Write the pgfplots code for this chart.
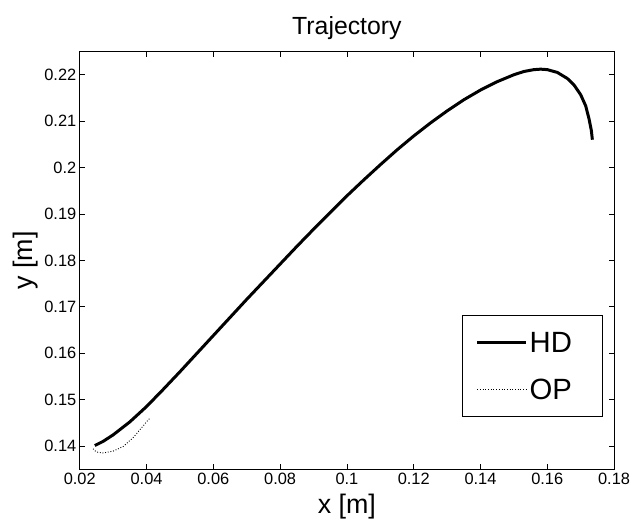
\documentclass[border=0pt]{standalone}
\usepackage{fontspec}
\setmainfont{Liberation Sans}
\usepackage{pgfplots}
\pgfplotsset{compat=1.18}
\begin{document}
\begin{tikzpicture}
\path[use as bounding box] (-80bp,-52bp) rectangle (556bp,470.7bp);
\begin{axis}[
  scale only axis,
  width=536bp, height=419bp,
  xmin=0.02, xmax=0.18, ymin=0.135, ymax=0.225,
  xtick={0.02,0.04,...,0.18},
  ytick={0.14,0.15,0.16,0.17,0.18,0.19,0.2,0.21,0.22},
  scaled ticks=false,
  /pgf/number format/assume math mode=true,
  /pgf/number format/fixed,
  /pgf/number format/precision=2,
  tick label style={font=\fontsize{16.5}{19}\selectfont},
  tick align=inside, tick pos=both,
  major tick length=5bp,
  axis line style={line width=0.8bp},
  every tick/.style={line width=0.6bp, black},
  title={Trajectory},
  title style={font=\fontsize{25}{29}\selectfont, yshift=2bp},
  xlabel={x [m]}, ylabel={y [m]},
  label style={font=\fontsize{27}{31}\selectfont},
  xlabel style={at={(axis description cs:0.5,0)}, anchor=south, inner sep=1bp, yshift=-51bp},
  ylabel style={at={(axis description cs:-0.076,0.5)}, anchor=south, rotate=0, inner sep=1bp},
  legend cell align=left,
  legend style={at={(0.979,0.125)}, anchor=south east, font=\fontsize{29.5}{33}\selectfont,
    draw=black, line width=0.8bp, inner xsep=13bp, inner ysep=15bp, row sep=22bp,
    nodes={inner sep=2bp, text height=21bp, text depth=0bp}},
  legend image code/.code={\draw[#1] (0bp,0bp) -- (49bp,0bp);},
]
\addplot[black, line width=3bp] coordinates {
(0.0245,0.1401) (0.027,0.1410) (0.030,0.1424) (0.035,0.1452) (0.040,0.1485)
(0.045,0.1522) (0.050,0.1560) (0.055,0.1599) (0.060,0.1638) (0.065,0.1677)
(0.070,0.1716) (0.075,0.1754) (0.080,0.1792) (0.085,0.1830) (0.090,0.1867)
(0.095,0.1903) (0.100,0.1939) (0.105,0.1973) (0.110,0.2006) (0.115,0.2038)
(0.120,0.2068) (0.125,0.2096) (0.130,0.2122) (0.135,0.2146) (0.140,0.2167)
(0.145,0.2185) (0.150,0.2200) (0.153,0.2207) (0.156,0.2211) (0.158,0.2212)
(0.160,0.2211) (0.163,0.2205) (0.166,0.2192) (0.168,0.2178) (0.170,0.2157)
(0.1715,0.2133) (0.1725,0.2105) (0.1732,0.2080) (0.1735,0.2060)
};
\addlegendentry{\makebox[58bp][l]{HD}}
\addplot[black, line width=0.9bp, dash pattern=on 0.9bp off 1.8bp] coordinates {
(0.024,0.1394) (0.025,0.1387) (0.027,0.1385) (0.030,0.1389) (0.033,0.1399)
(0.036,0.1418) (0.038,0.1435) (0.040,0.1452) (0.041,0.1460)
};
\addlegendentry{\makebox[58bp][l]{OP}}
\end{axis}
\end{tikzpicture}
\end{document}
